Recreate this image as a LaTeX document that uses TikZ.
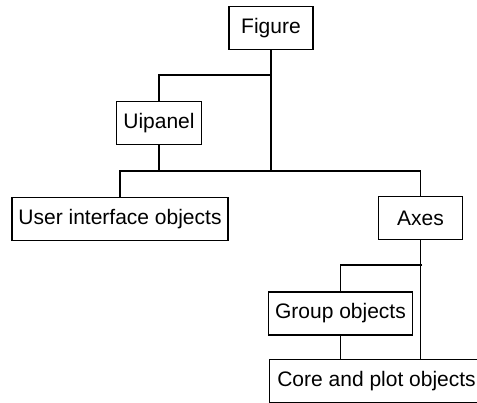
\documentclass[tikz,border=0pt]{standalone}
\usepackage{fontspec}
\setmainfont{Liberation Sans}
\usepackage{tikz}
\usetikzlibrary{positioning}

\begin{document}
\begin{tikzpicture}[x=1pt,y=-1pt,line width=1.1pt]
\tikzstyle{box}=[draw,minimum width=84pt,minimum height=43pt,inner xsep=6.5pt,font=\fontsize{21pt}{25pt}\selectfont]
\useasboundingbox (0,0) rectangle (477,403);
\clip (0,0) rectangle (477,403);
\node[box] (fig) at (271,28) {Figure};
\node[box] (uip) at (159,123) {Uipanel};
\node[box] (ui) at (120,219) {User interface objects};
\node[box] (axes) at (420.5,218) {Axes};
\node[box] (group) at (340.5,313.5) {Group objects};
\node[box,minimum width=214pt,anchor=north west] (core) at (269,359) {Core and plot objects};
\coordinate (topbar) at (271,75);
\coordinate (midbar) at (271,171);
\coordinate (axbar) at (422,265);
\draw (fig.south) -- (midbar);
\draw (topbar) -| (uip.north);
\draw (uip.south) -- (uip.south |- midbar);
\draw (ui.north) -- (ui.north |- midbar) -| (axes.north);
\draw (axes.south) -- (axes.south |- core.north);
\draw (axbar) -| (group.north);
\draw (group.south) -- (group.south |- core.north);
\end{tikzpicture}
\end{document}
